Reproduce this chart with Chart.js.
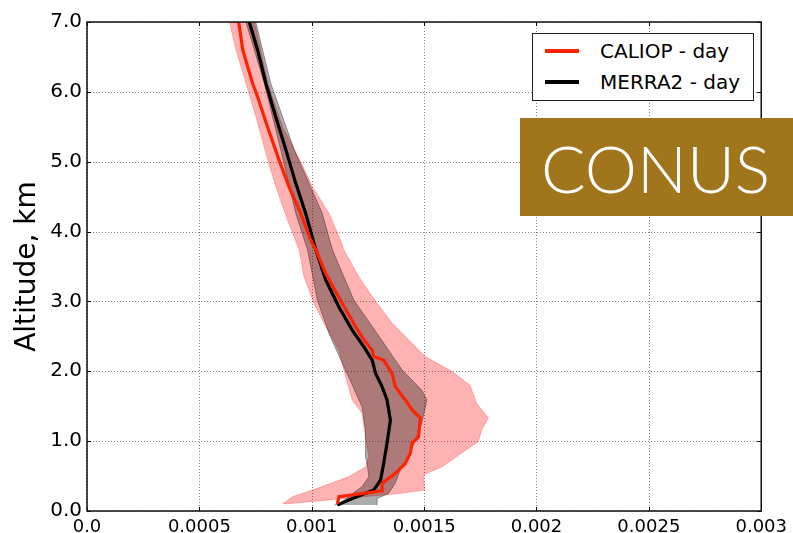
<!DOCTYPE html>
<html>
<head>
<meta charset="utf-8">
<script src="https://cdn.jsdelivr.net/npm/chart.js@4.4.1/dist/chart.umd.min.js"></script>
<style>
  html, body { margin: 0; padding: 0; background: #fff; }
  #wrap { position: relative; width: 793px; height: 533px; overflow: hidden; }
  #c { position: absolute; left: 0; top: 0; }
  #legend { position: absolute; left: 532px; top: 33px; width: 222px; height: 68px; box-sizing: border-box;
    border: 1px solid #222; background: #fff; font-family: 'DejaVu Sans', sans-serif; font-size: 20px; color: #000; }
  .item { position: absolute; left: 0; height: 24px; line-height: 24px; white-space: nowrap; }
  .swatch { position: absolute; left: 12px; top: 10px; width: 34px; height: 4px; }
  .lbl { position: absolute; left: 67px; top: 0; }
  #conus { position: absolute; left: 520px; top: 118px; width: 273px; height: 98px; background: #a0751c; }
  #conus span { position: absolute; left: 21px; top: 12px; font-family: 'Lato', sans-serif; font-weight: 300;
    font-size: 66px; line-height: 75px; color: #fff; letter-spacing: 0px; white-space: nowrap; }
</style>
</head>
<body>
<div id="wrap">
  <canvas id="c" width="793" height="533"></canvas>
  <div id="legend"></div>
  <div id="conus"><span>CONUS</span></div>
</div>
<script>
// ---------------- data ----------------
const seriesNames = ['CALIOP - day', 'MERRA2 - day'];
const regionLabel = 'CONUS';
const yAxisTitle = 'Altitude, km';

const xTickValues = [0, 0.0005, 0.001, 0.0015, 0.002, 0.0025, 0.003];
const xTickLabels = ['0.0', '0.0005', '0.001', '0.0015', '0.002', '0.0025', '0.003'];
const yTickValues = [0, 1, 2, 3, 4, 5, 6, 7];
const yTickLabels = ['0.0', '1.0', '2.0', '3.0', '4.0', '5.0', '6.0', '7.0'];

// CALIOP mean profile
const caliopAlt = [0.10, 0.205, 0.29, 0.395, 0.54, 0.68, 0.83, 0.97, 1.06, 1.33, 1.45, 1.59, 1.78, 1.97, 2.16, 2.21, 2.30, 2.45, 2.64, 2.97, 3.40, 3.74, 3.88, 4.26, 4.64, 5.02, 5.50, 5.93, 6.12, 6.60, 7.00];
const caliopVal = [0.001114, 0.001121, 0.001313, 0.001313, 0.001372, 0.001416, 0.001439, 0.001446, 0.001475, 0.001483, 0.001446, 0.001416, 0.001372, 0.001357, 0.00132, 0.001276, 0.001269, 0.001232, 0.001195, 0.001136, 0.001062, 0.001018, 0.000995, 0.000951, 0.000899, 0.000855, 0.000803, 0.000759, 0.000737, 0.000693, 0.000675];

// CALIOP spread (left / right edge of pink band)
const caliopLoAlt = [0.10, 0.205, 0.30, 0.49, 0.63, 0.78, 1.06, 1.40, 1.59, 1.92, 2.30, 2.64, 2.97, 3.35, 3.74, 4.17, 4.64, 5.12, 5.64, 6.12, 6.60, 7.00];
const caliopLo = [0.00087, 0.000914, 0.001003, 0.001165, 0.001239, 0.001254, 0.001239, 0.001224, 0.00118, 0.001151, 0.001121, 0.001062, 0.00101, 0.000966, 0.000944, 0.000892, 0.00084, 0.000796, 0.000752, 0.000708, 0.000663, 0.000634];
const caliopHiAlt = [0.10, 0.18, 0.25, 0.30, 0.52, 0.63, 0.83, 0.99, 1.16, 1.33, 1.54, 1.80, 2.00, 2.21, 2.45, 2.69, 3.07, 3.35, 3.74, 3.88, 4.26, 4.64, 5.00, 5.50, 6.12, 7.00];
const caliopHi = [0.00088, 0.00115, 0.00139, 0.001502, 0.001498, 0.001579, 0.001667, 0.001741, 0.001756, 0.001786, 0.001734, 0.001704, 0.001623, 0.001505, 0.001431, 0.001357, 0.001269, 0.00121, 0.001143, 0.001128, 0.001077, 0.001003, 0.000951, 0.00087, 0.000805, 0.000745];

// MERRA2 mean profile
const merraAlt = [0.086, 0.157, 0.30, 0.44, 0.68, 0.97, 1.30, 1.59, 1.78, 1.97, 2.16, 2.35, 2.59, 2.92, 3.31, 3.74, 4.26, 4.69, 5.17, 5.64, 6.12, 6.60, 7.00];
const merraVal = [0.001114, 0.001165, 0.001276, 0.001306, 0.00132, 0.001335, 0.00135, 0.001335, 0.001313, 0.001284, 0.001269, 0.001232, 0.00118, 0.001121, 0.001062, 0.001018, 0.000973, 0.000929, 0.000885, 0.00084, 0.000796, 0.000759, 0.000722];

// MERRA2 spread (left / right edge of grey band)
const merraLoAlt = [0.086, 0.10, 0.35, 0.49, 0.68, 0.78, 1.16, 1.49, 1.88, 2.02, 2.30, 2.54, 3.02, 3.74, 4.26, 5.17, 6.12, 7.00];
const merraLo = [0.0011, 0.001121, 0.001224, 0.001254, 0.001246, 0.001239, 0.001239, 0.001224, 0.00117, 0.00115, 0.00111, 0.001077, 0.001025, 0.000981, 0.000929, 0.000862, 0.000789, 0.000707];
const merraHiAlt = [0.086, 0.18, 0.25, 0.40, 0.59, 0.78, 1.02, 1.26, 1.59, 1.73, 2.02, 2.54, 3.02, 3.74, 4.26, 5.17, 6.12, 7.00];
const merraHi = [0.001291, 0.001291, 0.001342, 0.001372, 0.001394, 0.001431, 0.001461, 0.00149, 0.001512, 0.00149, 0.001402, 0.001291, 0.001187, 0.001092, 0.001047, 0.000922, 0.000818, 0.000751];

// ---------------- styles ----------------
const RED = '#ff2200';
const PINK = 'rgba(255,0,0,0.30)';
const GREY = 'rgba(0,0,0,0.32)';
const FONT = "'DejaVu Sans', sans-serif";

const pts = (alts, vals) => alts.map((a, i) => ({ x: vals[i], y: a }));

// dotted grid (under the data) and frame + inward ticks (over the data)
const framePlugin = {
  id: 'frame',
  beforeDatasetsDraw(chart) {
    const { ctx, chartArea: a, scales: { x, y } } = chart;
    ctx.save();
    ctx.strokeStyle = 'rgba(0,0,0,0.5)';
    ctx.lineWidth = 1;
    ctx.setLineDash([1, 2]);
    ctx.beginPath();
    xTickValues.forEach(v => {
      const px = Math.round(x.getPixelForValue(v)) + 0.5;
      ctx.moveTo(px, a.top); ctx.lineTo(px, a.bottom);
    });
    yTickValues.forEach(v => {
      const py = Math.round(y.getPixelForValue(v)) + 0.5;
      ctx.moveTo(a.left, py); ctx.lineTo(a.right, py);
    });
    ctx.stroke();
    ctx.restore();
  },
  afterDatasetsDraw(chart) {
    const { ctx, chartArea: a, scales: { x, y } } = chart;
    ctx.save();
    ctx.strokeStyle = '#000';
    ctx.lineWidth = 1;
    ctx.beginPath();
    xTickValues.forEach(v => {
      const px = Math.round(x.getPixelForValue(v)) + 0.5;
      ctx.moveTo(px, a.bottom); ctx.lineTo(px, a.bottom - 4);
      ctx.moveTo(px, a.top); ctx.lineTo(px, a.top + 4);
    });
    yTickValues.forEach(v => {
      const py = Math.round(y.getPixelForValue(v)) + 0.5;
      ctx.moveTo(a.left, py); ctx.lineTo(a.left + 4, py);
      ctx.moveTo(a.right, py); ctx.lineTo(a.right - 4, py);
    });
    ctx.stroke();
    ctx.lineWidth = 1.5;
    ctx.strokeStyle = '#111';
    ctx.strokeRect(a.left, a.top, a.right - a.left, a.bottom - a.top);
    ctx.restore();
  }
};

const chart = new Chart(document.getElementById('c'), {
  type: 'line',
  data: {
    datasets: [
      { label: seriesNames[0], data: pts(caliopAlt, caliopVal), borderColor: RED, borderWidth: 3.2, fill: false, order: 0 },
      { label: seriesNames[1], data: pts(merraAlt, merraVal), borderColor: '#000', borderWidth: 3.2, fill: false, order: 1 },
      { label: 'merraLo', data: pts(merraLoAlt, merraLo), borderColor: 'rgba(0,0,0,0.35)', borderWidth: 1, backgroundColor: GREY, fill: 3, order: 2 },
      { label: 'merraHi', data: pts(merraHiAlt, merraHi), borderColor: 'rgba(0,0,0,0.35)', borderWidth: 1, fill: false, order: 3 },
      { label: 'caliopLo', data: pts(caliopLoAlt, caliopLo), borderColor: 'rgba(255,0,0,0.25)', borderWidth: 1, backgroundColor: PINK, fill: 5, order: 4 },
      { label: 'caliopHi', data: pts(caliopHiAlt, caliopHi), borderColor: 'rgba(255,0,0,0.25)', borderWidth: 1, fill: false, order: 5 }
    ]
  },
  options: {
    indexAxis: 'y',
    responsive: false,
    animation: false,
    devicePixelRatio: 1,
    elements: { point: { radius: 0, hoverRadius: 0 }, line: { tension: 0 } },
    layout: { padding: { top: 22, right: 29, left: 0, bottom: 0 } },
    plugins: { legend: { display: false }, tooltip: { enabled: false } },
    events: [],
    scales: {
      x: {
        type: 'linear', min: 0, max: 0.003, position: 'bottom',
        afterBuildTicks: s => { s.ticks = xTickValues.map(v => ({ value: v })); },
        afterFit: s => { s.height = 22; },
        ticks: { callback: (v, i) => xTickLabels[i], color: '#000', font: { family: FONT, size: 18 }, padding: 6, maxRotation: 0, autoSkip: false },
        grid: { display: false, drawTicks: false },
        border: { display: false }
      },
      y: {
        type: 'linear', min: 0, max: 7, position: 'left',
        afterBuildTicks: s => { s.ticks = yTickValues.map(v => ({ value: v })); },
        afterFit: s => { s.width = 87; },
        ticks: { callback: (v, i) => yTickLabels[i], color: '#000', font: { family: FONT, size: 20 }, padding: 5, autoSkip: false },
        grid: { display: false, drawTicks: false },
        border: { display: false },
        title: { display: true, text: yAxisTitle, color: '#000', font: { family: FONT, size: 28 }, padding: { top: 11, bottom: 0 } }
      }
    }
  },
  plugins: [framePlugin]
});

// HTML legend
const legend = document.getElementById('legend');
[[seriesNames[0], RED, 5], [seriesNames[1], '#000', 36]].forEach(([name, col, top]) => {
  const it = document.createElement('div');
  it.className = 'item';
  it.style.top = top + 'px';
  it.innerHTML = '<div class="swatch" style="background:' + col + '"></div><div class="lbl"></div>';
  it.querySelector('.lbl').textContent = name;
  legend.appendChild(it);
});
document.querySelector('#conus span').textContent = regionLabel;
</script>
</body>
</html>
